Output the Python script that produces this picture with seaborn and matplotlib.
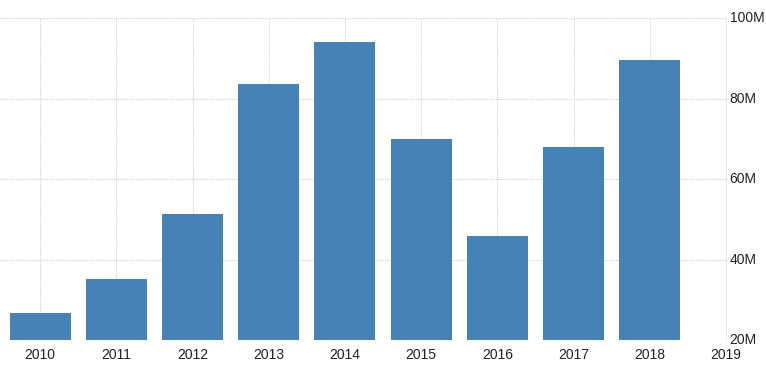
import matplotlib
matplotlib.use("Agg")
import matplotlib.pyplot as plt
import seaborn as sns
import pandas as pd
from matplotlib.ticker import FuncFormatter

years = ["2010", "2011", "2012", "2013", "2014", "2015", "2016", "2017", "2018"]
values_m = [26.7, 35.2, 51.3, 83.6, 94.0, 69.9, 45.8, 68.0, 89.6]
tick_labels = ["2010", "2011", "2012", "2013", "2014", "2015", "2016", "2017", "2018", "2019"]
y_ticks = [20, 40, 60, 80, 100]

sns.set_theme(style="white")
plt.rcParams['font.family'] = ['Liberation Sans Narrow', 'Liberation Sans', 'DejaVu Sans']

df = pd.DataFrame({"year": years, "value": values_m})

fig = plt.figure(figsize=(7.66, 3.77), dpi=100)
ax = fig.add_axes([0.0, 0.098, 0.949, 0.854])
sns.barplot(data=df, x="year", y="value", color="#4682B4", saturation=1, width=0.8,
            linewidth=0, ax=ax, zorder=3)

ax.set_xlim(-0.525, 9.01)
ax.set_ylim(20, 100)
ax.set_xticks(range(len(tick_labels)))
ax.set_xticklabels(tick_labels)
ax.set_yticks(y_ticks)
ax.yaxis.set_major_formatter(FuncFormatter(lambda v, p: f"{int(v)}M"))
ax.yaxis.tick_right()
ax.set_xlabel("")
ax.set_ylabel("")
for s in ax.spines.values():
    s.set_visible(False)
ax.grid(True, axis="both", color="#d0d0d0", linestyle=(0, (1, 1)), linewidth=0.8, zorder=0)
ax.tick_params(axis="both", length=0, labelsize=10, colors="#222222")
ax.tick_params(axis="x", pad=6)
ax.tick_params(axis="y", pad=2)
for lab in ax.get_yticklabels():
    lab.set_verticalalignment("center")

fig.savefig("out.png", dpi=100)
